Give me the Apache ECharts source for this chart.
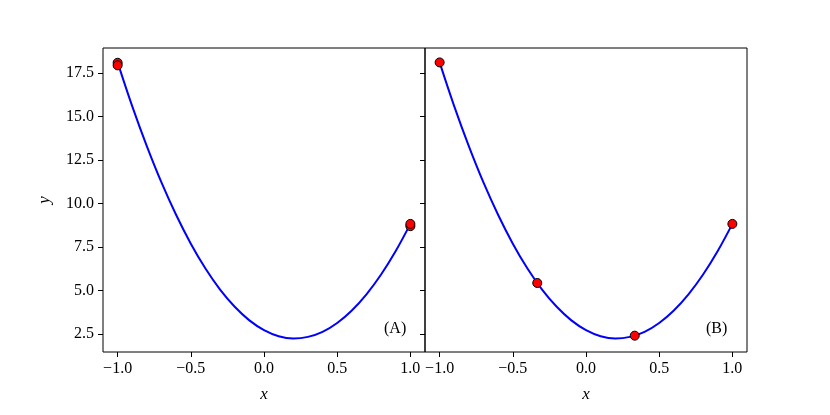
<!DOCTYPE html>
<html>
<head>
<meta charset="utf-8">
<script src="https://cdn.jsdelivr.net/npm/echarts@6/dist/echarts.min.js"></script>
<style>html,body{margin:0;padding:0;background:#fff}#c{width:830px;height:415px}</style>
</head>
<body>
<div id="c"></div>
<script>
// Curve samples (same curve in both panels)
const curveX = [-1.0,-0.9,-0.8,-0.7,-0.6,-0.5,-0.4,-0.3,-0.2,-0.1,0.0,0.1,0.2,0.3,0.4,0.5,0.6,0.7,0.8,0.9,1.0];
const curveY = [18.12,15.59,13.29,11.20,9.34,7.69,6.26,5.05,4.06,3.28,2.72,2.37,2.24,2.33,2.62,3.13,3.85,4.78,5.92,7.27,8.83];
// Sample points, panel A
const pointsAX = [-1.0,-1.0,1.0,1.0];
const pointsAY = [18.10,17.95,8.70,8.83];
// Sample points, panel B
const pointsBX = [-1.0,-0.333,0.333,1.0];
const pointsBY = [18.12,5.43,2.40,8.83];
// Ticks
const xTicks = [-1.0,-0.5,0.0,0.5,1.0];
const yTicks = [2.5,5.0,7.5,10.0,12.5,15.0,17.5];
const panelLabels = ['(A)','(B)'];

const FONT = 'Liberation Serif';
const fmt = v => (Math.round(v*10)/10).toFixed(1).replace('-', '\u2212');
const zip = (a,b) => a.map((v,i)=>[v,b[i]]);

function xAxis(idx){
  return {
    type:'value', gridIndex:idx, min:-1.1, max:1.1, position:'bottom',
    name:'x', nameLocation:'middle', nameGap:34,
    nameTextStyle:{fontFamily:FONT, fontStyle:'italic', fontSize:17, color:'#000'},
    axisLine:{show:false, onZero:false},
    axisTick:{show:true, length:5, inside:false, customValues:xTicks, lineStyle:{color:'#000', width:1}},
    axisLabel:{show:true, customValues:xTicks, formatter:fmt, margin:9, fontFamily:FONT, fontSize:16, color:'#000'},
    splitLine:{show:false}
  };
}
function yAxis(idx, labels){
  return {
    type:'value', gridIndex:idx, min:1.46, max:18.95, position:'left',
    name: labels ? 'y' : '', nameLocation:'middle', nameGap:50,
    nameTextStyle:{fontFamily:FONT, fontStyle:'italic', fontSize:17, color:'#000'},
    axisLine:{show:false, onZero:false},
    axisTick:{show:true, length:5, inside:false, customValues:yTicks, lineStyle:{color:'#000', width:1}},
    axisLabel:{show:labels, customValues:yTicks, formatter:fmt, margin:9, fontFamily:FONT, fontSize:16, color:'#000'},
    splitLine:{show:false}
  };
}

const chart = echarts.init(document.getElementById('c'), null, {renderer:'canvas'});
const lineSeries = idx => ({
  type:'line', xAxisIndex:idx, yAxisIndex:idx, data:zip(curveX, curveY),
  smooth:0.4, showSymbol:false, symbol:'none',
  lineStyle:{color:'#0000ff', width:2}, z:2, silent:true, animation:false
});
const scatterSeries = (idx, xs, ys) => ({
  type:'scatter', xAxisIndex:idx, yAxisIndex:idx, data:zip(xs, ys),
  symbolSize:9, itemStyle:{color:'#ff0000', borderColor:'#000', borderWidth:1, opacity:1},
  z:3, silent:true, animation:false
});

chart.setOption({
  animation:false,
  backgroundColor:'#fff',
  grid:[
    {left:103, right:405, top:48, bottom:63, show:true, borderColor:'#000', borderWidth:1, backgroundColor:'transparent'},
    {left:425, right:83, top:48, bottom:63, show:true, borderColor:'#000', borderWidth:1, backgroundColor:'transparent'}
  ],
  xAxis:[xAxis(0), xAxis(1)],
  yAxis:[yAxis(0,true), yAxis(1,false)],
  series:[
    lineSeries(0), scatterSeries(0, pointsAX, pointsAY),
    lineSeries(1), scatterSeries(1, pointsBX, pointsBY)
  ],
  graphic:[
    {type:'text', left:384, top:321, style:{text:panelLabels[0], font:'16px "Liberation Serif"', fill:'#000'}},
    {type:'text', left:706, top:321, style:{text:panelLabels[1], font:'16px "Liberation Serif"', fill:'#000'}}
  ]
});
</script>
</body>
</html>
